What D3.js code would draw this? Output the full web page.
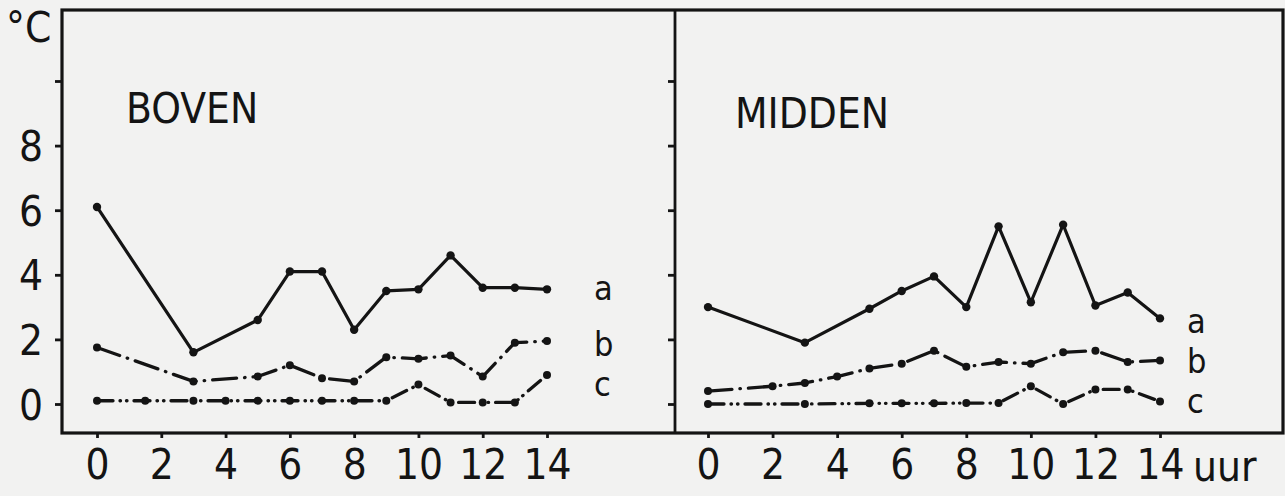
<!DOCTYPE html>
<html>
<head>
<meta charset="utf-8">
<script src="https://cdn.jsdelivr.net/npm/d3@7"></script>
<style>
  body { margin: 0; background: #f2f2f1; }
  svg { display: block; }
  text { font-family: "DejaVu Sans Condensed", "DejaVu Sans", sans-serif; fill: #141414; }
</style>
</head>
<body>
<div class="canvas"></div>
<script>
// BOVEN (upper) - hours and temperatures
const bovenUurA = [0, 3, 5, 6, 7, 8, 9, 10, 11, 12, 13, 14];
const bovenA = [6.1, 1.6, 2.6, 4.1, 4.1, 2.3, 3.5, 3.55, 4.6, 3.6, 3.6, 3.55];
const bovenUurB = [0, 3, 5, 6, 7, 8, 9, 10, 11, 12, 13, 14];
const bovenB = [1.75, 0.7, 0.85, 1.2, 0.8, 0.7, 1.45, 1.4, 1.5, 0.85, 1.9, 1.95];
const bovenUurC = [0, 1.5, 3, 4, 5, 6, 7, 8, 9, 10, 11, 12, 13, 14];
const bovenC = [0.1, 0.1, 0.1, 0.1, 0.1, 0.1, 0.1, 0.1, 0.1, 0.6, 0.05, 0.05, 0.05, 0.9];

// MIDDEN (middle)
const middenUurA = [0, 3, 5, 6, 7, 8, 9, 10, 11, 12, 13, 14];
const middenA = [3.0, 1.9, 2.95, 3.5, 3.95, 3.0, 5.5, 3.15, 5.55, 3.05, 3.45, 2.65];
const middenUurB = [0, 2, 3, 4, 5, 6, 7, 8, 9, 10, 11, 12, 13, 14];
const middenB = [0.4, 0.55, 0.65, 0.85, 1.1, 1.25, 1.65, 1.15, 1.3, 1.25, 1.6, 1.65, 1.3, 1.35];
const middenUurC = [0, 3, 5, 6, 7, 8, 9, 10, 11, 12, 13, 14];
const middenC = [0, 0, 0.02, 0.02, 0.02, 0.03, 0.03, 0.55, 0, 0.45, 0.45, 0.08];

const xTicks = [0, 2, 4, 6, 8, 10, 12, 14];
const yTicks = [0, 2, 4, 6, 8, 10];
const yLabels = ['0', '2', '4', '6', '8', ''];
const seriesNames = ['a', 'b', 'c'];

const dims = { width: 1285, height: 496 };
const frame = { left: 62, right: 1283, top: 10, bottom: 433, divider: 675 };
const ink = '#141414';

const svg = d3.select('.canvas')
    .append('svg')
    .attr('width', dims.width)
    .attr('height', dims.height);

const y = d3.scaleLinear().domain([0, 10]).range([404, 81]);

const panels = [
    { name: 'BOVEN', range: [97, 547], titleX: 126, titleY: 123, labelX: 594,
      series: [[bovenUurA, bovenA], [bovenUurB, bovenB], [bovenUurC, bovenC]],
      labelY: [300, 356, 396] },
    { name: 'MIDDEN', range: [708, 1160], titleX: 735, titleY: 128, labelX: 1187,
      series: [[middenUurA, middenA], [middenUurB, middenB], [middenUurC, middenC]],
      labelY: [333, 373, 413] }
];

// a solid, b dash-dot, c dash-dot-dot
const styles = [
    { dash: null, width: 3.2, r: 4.2 },
    { dash: '24,8,0.5,8', width: 3.3, r: 4 },
    { dash: '16,7,0.5,6,0.5,7', width: 3.3, r: 4 }
];

// frame
svg.append('rect')
    .attr('x', frame.left)
    .attr('y', frame.top)
    .attr('width', frame.right - frame.left)
    .attr('height', frame.bottom - frame.top)
    .attr('fill', 'none')
    .attr('stroke', ink)
    .attr('stroke-width', 3.2);

svg.append('line')
    .attr('x1', frame.divider).attr('x2', frame.divider)
    .attr('y1', frame.top).attr('y2', frame.bottom)
    .attr('stroke', ink)
    .attr('stroke-width', 2.8);

// y axis (left) and ticks on the divider
const yAxis = svg.append('g')
    .attr('transform', `translate(${frame.left},0)`)
    .call(d3.axisLeft(y).tickValues(yTicks).tickSize(7).tickPadding(12)
        .tickFormat((d, i) => yLabels[i]));

const divAxis = svg.append('g')
    .attr('transform', `translate(${frame.divider},0)`)
    .call(d3.axisLeft(y).tickValues(yTicks).tickSize(7).tickFormat(''));

[yAxis, divAxis].forEach(g => {
    g.select('.domain').remove();
    g.selectAll('line').attr('stroke', ink).attr('stroke-width', 2.8);
});
yAxis.selectAll('text')
    .attr('font-size', 42)
    .attr('dy', '0.36em')
    .attr('fill', ink);

svg.append('text')
    .attr('x', 6)
    .attr('y', 42)
    .attr('font-size', 42)
    .text('°C');

const line = d3.line();

panels.forEach(p => {
    const x = d3.scaleLinear().domain([0, 14]).range(p.range);

    const xAxis = svg.append('g')
        .attr('transform', `translate(0,${frame.bottom})`)
        .call(d3.axisBottom(x).tickValues(xTicks).tickSize(5).tickPadding(11));
    xAxis.select('.domain').remove();
    xAxis.selectAll('line').attr('stroke', ink).attr('stroke-width', 2.8);
    xAxis.selectAll('text')
        .attr('font-size', 42)
        .attr('fill', ink);

    svg.append('text')
        .attr('x', p.titleX)
        .attr('y', p.titleY)
        .attr('font-size', 42)
        .text(p.name);

    p.series.forEach(([uur, vals], si) => {
        const pts = uur.map((h, i) => [x(h), y(vals[i])]);
        const st = styles[si];
        svg.append('path')
            .attr('d', line(pts))
            .attr('fill', 'none')
            .attr('stroke', ink)
            .attr('stroke-width', st.width)
            .attr('stroke-linejoin', 'round')
            .attr('stroke-linecap', 'round')
            .attr('stroke-dasharray', st.dash);

        svg.append('g').selectAll('circle')
            .data(pts)
            .enter()
            .append('circle')
            .attr('cx', d => d[0])
            .attr('cy', d => d[1])
            .attr('r', st.r)
            .attr('fill', ink);

        svg.append('text')
            .attr('x', p.labelX)
            .attr('y', p.labelY[si])
            .attr('font-size', 34)
            .text(seriesNames[si]);
    });
});

svg.append('text')
    .attr('x', 1193)
    .attr('y', 481)
    .attr('font-size', 42)
    .text('uur');
</script>
</body>
</html>
